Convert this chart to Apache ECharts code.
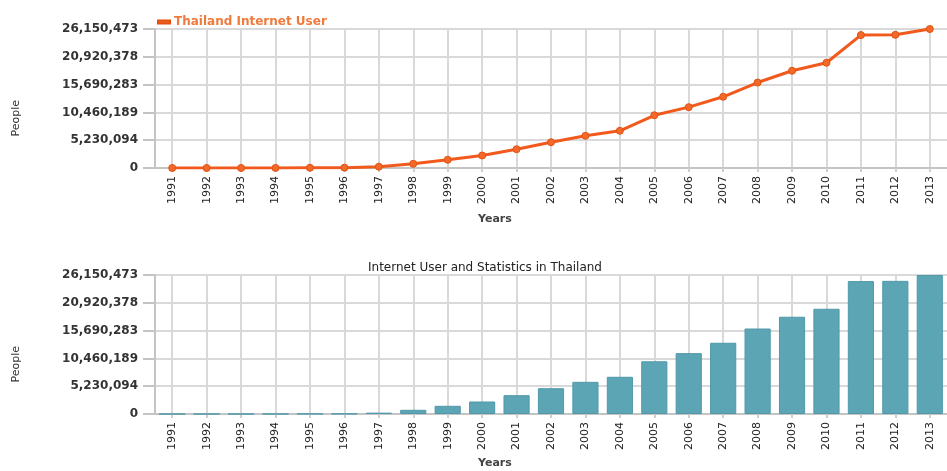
<!DOCTYPE html>
<html>
<head>
<meta charset="utf-8">
<script src="https://cdn.jsdelivr.net/npm/echarts@6/dist/echarts.min.js"></script>
<style>
html,body{margin:0;padding:0;background:#fff;}
#c{width:947px;height:471px;}
</style>
</head>
<body>
<div id="c"></div>
<script>
const years = ['1991','1992','1993','1994','1995','1996','1997','1998','1999','2000','2001','2002','2003','2004','2005','2006','2007','2008','2009','2010','2011','2012','2013'];
const internetUsers = [30, 300, 2500, 15000, 45000, 70000, 250000, 790000, 1540000, 2350000, 3540000, 4850000, 6050000, 7000000, 9920000, 11450000, 13400000, 16080000, 18300000, 19800000, 25000000, 25050000, 26150473];
const yTickLabels = ['0', '5,230,094', '10,460,189', '15,690,283', '20,920,378', '26,150,473'];
const yMax = 26150473;
const seriesName = 'Thailand Internet User';
const chartTitle = 'Internet User and Statistics in Thailand';
const yName = 'People';
const xName = 'Years';

const FONT = 'DejaVu Sans';
const chart = echarts.init(document.getElementById('c'), null, {renderer: 'canvas'});

function xAxisCfg(gridIndex) {
  return {
    type: 'category', gridIndex: gridIndex, data: years, boundaryGap: true,
    axisLine: {show: true, lineStyle: {color: '#c4c4c4', width: 2}},
    axisTick: {show: true, alignWithLabel: true, length: 4, lineStyle: {color: '#cfcfcf', width: 2}},
    axisLabel: {rotate: 90, margin: 8, color: '#222', fontFamily: FONT, fontSize: 11, interval: 0},
    splitLine: {show: true, alignWithLabel: true, lineStyle: {color: '#d9d9d9', width: 2}}
  };
}
function yAxisCfg(gridIndex) {
  return {
    type: 'value', gridIndex: gridIndex, min: 0, max: yMax, interval: yMax / 5,
    axisLine: {show: true, lineStyle: {color: '#c4c4c4', width: 2}},
    axisTick: {show: true, length: 12, lineStyle: {color: '#c4c4c4', width: 2}},
    axisLabel: {margin: 17, color: '#333', fontFamily: FONT, fontSize: 12, fontWeight: 'bold',
      formatter: function (v, i) { return yTickLabels[i]; }},
    splitLine: {show: true, lineStyle: {color: '#d9d9d9', width: 2}}
  };
}

const option = {
  backgroundColor: '#fff',
  animation: false,
  textStyle: {fontFamily: FONT},
  title: {
    text: chartTitle, left: 363, top: 257,
    textStyle: {fontFamily: FONT, fontSize: 12, fontWeight: 'normal', color: '#222'}
  },
  legend: {
    data: [seriesName], left: 152, top: 11, icon: 'rect', itemWidth: 12, itemHeight: 3, itemGap: 2,
    textStyle: {fontFamily: FONT, fontSize: 12, fontWeight: 'bold', color: '#f07a3c', padding: [0, 0, 0, -1]}
  },
  grid: [
    {left: 155, top: 29, height: 139, right: -10},
    {left: 155, top: 275, height: 139, right: -10}
  ],
  xAxis: [xAxisCfg(0), xAxisCfg(1)],
  yAxis: [yAxisCfg(0), yAxisCfg(1)],
  graphic: [
    {type: 'text', left: 11, top: 100, rotation: Math.PI / 2,
      style: {text: yName, font: '11px "DejaVu Sans"', fill: '#333'}},
    {type: 'text', left: 11, top: 346, rotation: Math.PI / 2,
      style: {text: yName, font: '11px "DejaVu Sans"', fill: '#333'}},
    {type: 'text', left: 478, top: 214,
      style: {text: xName, font: 'bold 11px "DejaVu Sans"', fill: '#444'}},
    {type: 'text', left: 478, top: 458,
      style: {text: xName, font: 'bold 11px "DejaVu Sans"', fill: '#444'}}
  ],
  series: [
    {
      name: seriesName, type: 'line', xAxisIndex: 0, yAxisIndex: 0, data: internetUsers,
      symbol: 'circle', symbolSize: 7,
      lineStyle: {color: '#f15a1c', width: 3},
      itemStyle: {color: '#f26a2a', borderColor: '#e4500f', borderWidth: 1}
    },
    {
      name: 'bars', type: 'bar', xAxisIndex: 1, yAxisIndex: 1, data: internetUsers,
      barWidth: '76%',
      itemStyle: {color: '#5ca5b4', borderColor: '#5199aa', borderWidth: 1}
    }
  ]
};
chart.setOption(option);
</script>
</body>
</html>
